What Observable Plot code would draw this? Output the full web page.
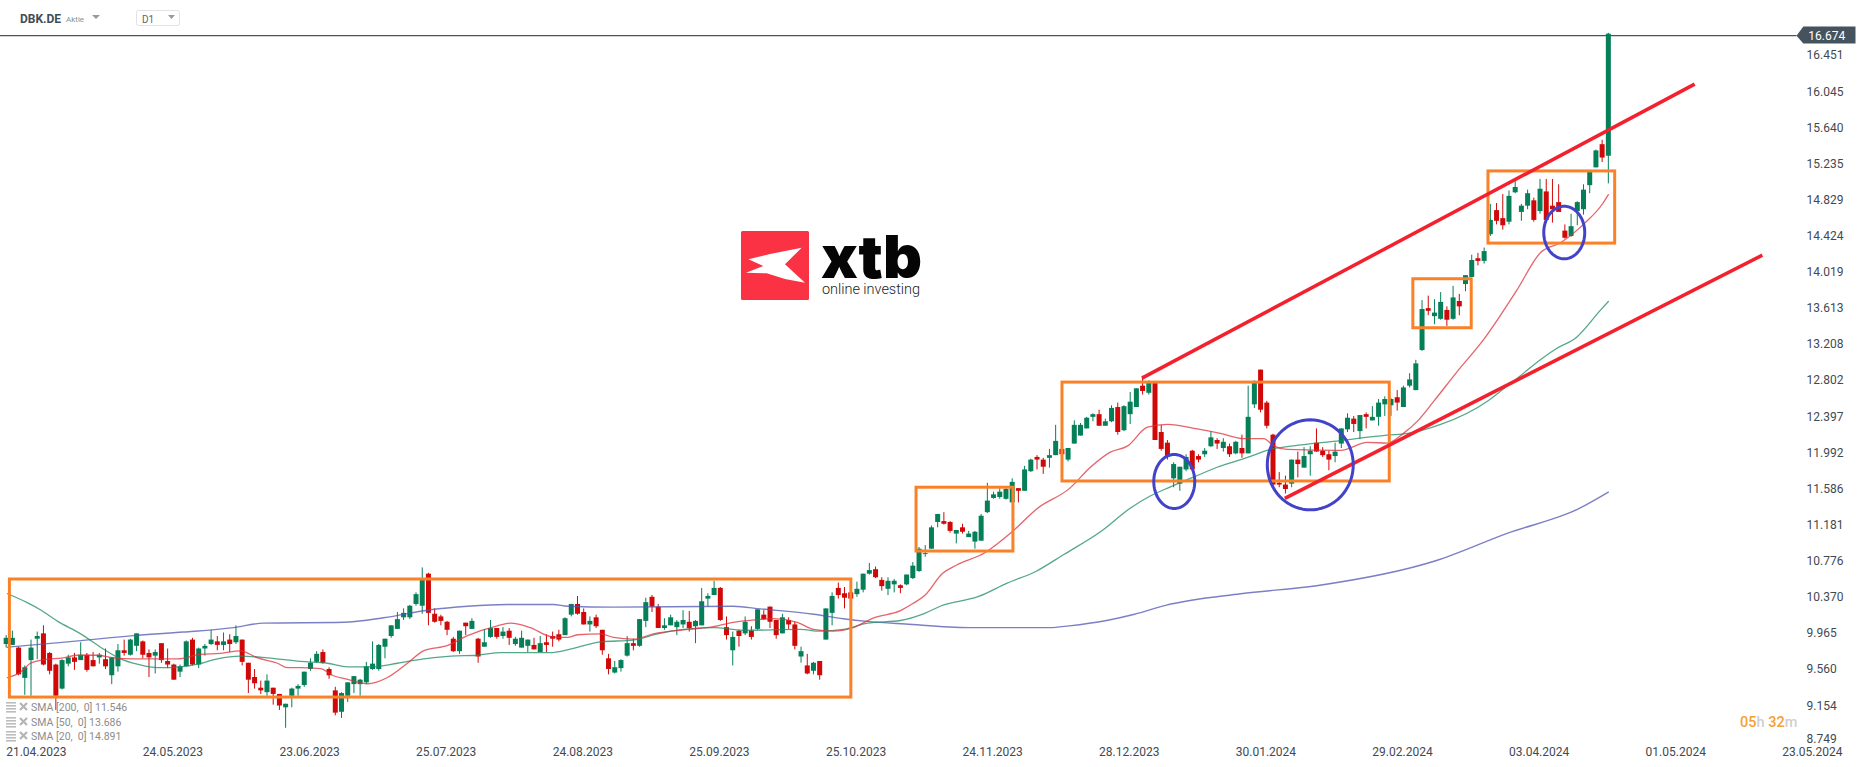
<!DOCTYPE html>
<html><head><meta charset="utf-8">
<script src="https://cdn.jsdelivr.net/npm/d3@7"></script>
<script src="https://cdn.jsdelivr.net/npm/@observablehq/plot@0.6"></script>
<style>html,body{margin:0;padding:0;background:#fff;overflow:hidden}</style>
</head><body><div id="chart"></div>
<script>
const open = [
9.84,9.83,9.80,9.46,9.66,9.90,9.96,9.74,9.61,9.34,
9.62,9.69,9.66,9.72,9.66,9.69,9.67,9.49,9.59,9.77,
9.72,9.82,9.87,9.74,9.71,9.85,9.65,9.61,9.53,9.59,
9.89,9.61,9.79,9.84,9.87,9.83,9.89,9.86,9.89,9.63,
9.47,9.35,9.30,9.35,9.28,9.13,9.26,9.34,9.38,9.56,
9.64,9.75,9.56,9.32,9.08,9.26,9.39,9.39,9.41,9.56,
9.56,9.81,9.93,10.01,10.14,10.14,10.29,10.27,10.63,10.18,
10.15,10.09,9.90,9.76,10.08,10.01,9.90,9.81,9.92,10.02,
9.93,9.99,9.84,9.80,9.82,9.83,9.75,9.86,9.93,9.95,
9.94,10.17,10.29,10.20,10.06,10.14,10.00,9.68,9.52,9.57,
9.71,9.85,9.82,10.10,10.37,10.26,10.02,10.05,10.03,10.06,
10.09,10.04,10.05,10.35,10.39,10.47,10.03,9.77,9.99,9.96,
9.99,10.01,10.17,10.26,10.11,9.96,10.11,10.06,9.70,9.60,
9.54,9.65,9.89,10.19,10.47,10.41,10.42,10.40,10.45,10.63,
10.68,10.56,10.46,10.51,10.50,10.51,10.58,10.66,10.85,10.91,
11.21,11.22,11.21,11.08,11.15,11.04,10.99,11.00,11.32,11.48,
11.49,11.47,11.43,11.59,11.56,11.78,11.94,11.91,11.93,11.96,
12.03,11.91,12.09,12.18,12.26,12.39,12.42,12.29,12.34,12.50,
12.24,12.42,12.50,12.74,12.66,12.78,12.22,12.10,11.70,11.64,
11.80,12.01,11.95,11.97,12.06,12.13,12.04,12.06,11.98,12.04,
11.98,12.53,12.92,12.55,12.19,11.65,11.63,11.64,11.91,11.82,
11.97,12.10,12.01,11.97,11.95,12.09,12.25,12.37,12.23,12.42,
12.35,12.39,12.53,12.52,12.61,12.50,12.74,12.69,13.14,13.61,
13.52,13.49,13.59,13.49,13.69,13.88,13.96,14.17,14.14,14.44,
14.71,14.62,14.58,14.91,14.69,14.76,14.82,14.70,14.92,14.76,
14.80,14.48,14.42,14.70,14.72,14.99,15.19,15.45,15.32];
const close = [
9.91,9.91,9.50,9.58,9.80,9.93,9.61,9.54,9.26,9.66,
9.69,9.64,9.72,9.55,9.59,9.72,9.59,9.69,9.77,9.74,
9.89,9.96,9.72,9.69,9.75,9.66,9.61,9.44,9.59,9.87,
9.61,9.79,9.82,9.89,9.83,9.87,9.84,9.93,9.64,9.44,
9.40,9.32,9.43,9.28,9.15,9.17,9.34,9.37,9.53,9.63,
9.73,9.63,9.49,9.07,9.29,9.41,9.48,9.44,9.59,9.62,
9.83,9.90,10.05,10.12,10.19,10.27,10.40,10.56,10.19,10.09,
10.10,10.00,9.76,9.99,10.04,10.10,9.70,9.86,10.02,9.92,
9.98,9.91,9.90,9.91,9.89,9.78,9.85,9.83,9.90,9.89,
10.13,10.29,10.18,10.06,10.10,10.04,9.77,9.56,9.58,9.66,
9.85,9.82,10.12,10.31,10.26,10.02,10.05,10.14,10.09,10.11,
10.02,10.10,10.32,10.38,10.47,10.11,9.94,9.92,9.93,10.09,
9.92,10.23,10.12,10.09,9.94,10.14,10.06,9.82,9.76,9.51,
9.63,9.49,10.24,10.38,10.39,10.36,10.35,10.46,10.63,10.67,
10.59,10.49,10.55,10.55,10.47,10.62,10.72,10.91,10.86,11.15,
11.30,11.19,11.11,11.12,11.10,11.08,11.10,11.28,11.45,11.52,
11.55,11.58,11.66,11.56,11.80,11.91,11.91,11.83,11.96,12.12,
11.97,12.04,12.30,12.30,12.38,12.42,12.29,12.34,12.49,12.22,
12.51,12.56,12.71,12.68,12.77,12.13,12.03,11.94,11.86,11.83,
11.94,11.80,11.91,12.01,12.16,12.09,12.11,11.97,12.11,11.98,
12.39,12.78,12.47,12.29,11.63,11.63,11.58,11.91,11.86,11.95,
12.01,12.00,11.96,11.91,12.00,12.26,12.38,12.31,12.41,12.39,
12.39,12.55,12.59,12.59,12.55,12.72,12.81,12.99,13.60,13.58,
13.56,13.68,13.48,13.73,13.63,13.98,14.15,14.14,14.25,14.60,
14.59,14.54,14.87,14.97,14.76,14.90,14.60,14.95,14.60,14.72,
14.69,14.40,14.53,14.80,14.94,15.14,15.38,15.30,16.69];
const high = [
9.94,9.99,9.81,9.60,9.89,9.98,10.05,9.75,9.62,9.67,
9.72,9.74,9.86,9.74,9.75,9.74,9.79,9.69,9.84,9.89,
9.90,9.96,9.88,9.78,9.78,9.85,9.79,9.62,9.61,9.88,
9.91,9.80,9.84,10.00,9.93,9.97,9.95,10.05,9.89,9.63,
9.56,9.43,9.50,9.35,9.28,9.17,9.35,9.39,9.53,9.68,
9.76,9.78,9.58,9.36,9.30,9.41,9.48,9.45,9.64,9.87,
9.84,9.90,10.05,10.20,10.24,10.28,10.42,10.70,10.64,10.24,
10.17,10.10,9.92,9.99,10.08,10.13,9.91,10.01,10.11,10.02,
10.03,10.02,9.92,9.99,9.89,9.91,9.93,9.95,9.98,10.00,
10.14,10.29,10.38,10.24,10.15,10.17,10.00,9.73,9.65,9.67,
9.93,9.90,10.12,10.36,10.39,10.29,10.13,10.17,10.11,10.22,
10.21,10.11,10.47,10.41,10.55,10.48,10.15,9.98,10.00,10.15,
10.04,10.23,10.22,10.26,10.11,10.18,10.14,10.09,9.81,9.73,
9.64,9.65,10.24,10.42,10.53,10.48,10.48,10.54,10.63,10.75,
10.71,10.59,10.59,10.57,10.51,10.62,10.76,10.93,10.95,11.17,
11.30,11.32,11.22,11.12,11.19,11.11,11.11,11.30,11.65,11.55,
11.59,11.60,11.70,11.59,11.84,11.92,11.96,11.93,12.03,12.30,
12.04,12.04,12.35,12.32,12.39,12.43,12.47,12.37,12.52,12.55,
12.52,12.67,12.71,12.85,12.80,12.79,12.30,12.13,11.88,11.83,
11.97,12.02,11.97,12.04,12.23,12.15,12.15,12.09,12.12,12.19,
12.74,12.80,12.92,12.57,12.20,11.77,11.73,11.91,12.00,12.05,
12.06,12.26,12.05,12.01,12.10,12.26,12.43,12.40,12.41,12.44,
12.51,12.59,12.62,12.60,12.69,12.74,12.88,13.03,13.70,13.75,
13.71,13.79,13.63,13.86,13.77,13.98,14.21,14.23,14.29,14.78,
14.79,14.89,14.93,15.05,14.78,14.94,14.85,15.06,15.06,15.06,
15.00,14.55,14.67,14.81,15.00,15.14,15.39,15.50,16.70];
const low = [
9.80,9.83,9.49,9.27,9.26,9.67,9.60,9.50,9.10,9.33,
9.59,9.55,9.66,9.53,9.59,9.62,9.56,9.39,9.53,9.71,
9.71,9.76,9.68,9.47,9.51,9.63,9.57,9.44,9.47,9.59,
9.60,9.57,9.71,9.83,9.77,9.77,9.75,9.84,9.60,9.29,
9.34,9.28,9.26,9.16,9.10,8.90,9.13,9.26,9.36,9.54,
9.63,9.62,9.45,9.04,9.01,9.19,9.29,9.26,9.39,9.55,
9.54,9.68,9.91,10.01,10.11,10.12,10.27,10.18,10.05,10.08,
10.05,9.94,9.75,9.73,9.94,10.01,9.63,9.81,9.91,9.90,
9.90,9.83,9.82,9.80,9.75,9.78,9.75,9.75,9.81,9.87,
9.94,10.15,10.17,10.06,9.98,10.02,9.72,9.50,9.51,9.53,
9.70,9.77,9.81,10.03,10.20,10.02,10.00,10.05,9.94,10.02,
9.98,9.85,10.05,10.26,10.39,10.10,9.89,9.60,9.81,9.94,
9.89,10.00,10.11,10.02,9.90,9.96,10.01,9.78,9.63,9.50,
9.50,9.44,9.89,10.05,10.35,10.24,10.33,10.37,10.42,10.62,
10.58,10.44,10.39,10.42,10.41,10.50,10.57,10.65,10.82,10.91,
11.15,11.18,11.09,10.97,11.08,11.04,10.91,11.00,11.31,11.47,
11.47,11.46,11.43,11.43,11.56,11.77,11.80,11.75,11.82,11.96,
11.97,11.89,12.09,12.18,12.26,12.34,12.29,12.29,12.33,12.19,
12.23,12.31,12.50,12.64,12.64,12.13,12.01,11.91,11.60,11.56,
11.78,11.79,11.88,11.94,12.05,12.03,12.00,11.94,11.97,11.93,
11.98,12.49,12.44,12.26,11.60,11.60,11.53,11.60,11.71,11.82,
11.73,12.00,11.94,11.79,11.88,12.04,12.22,12.22,12.14,12.26,
12.35,12.29,12.40,12.40,12.46,12.50,12.72,12.69,13.13,13.53,
13.43,13.48,13.41,13.48,13.53,13.80,13.96,14.09,14.11,14.42,
14.55,14.49,14.55,14.90,14.59,14.72,14.58,14.67,14.60,14.57,
14.69,14.39,14.41,14.54,14.66,14.90,15.19,15.25,15.01];

const sma200Bar = [0.2,9.9,20.5,28.6,36.6,41.4,54.3,60.8,68.3,74.3,80.7,88.1,90.4,97.8,117.1,121.5,130,134.8,138.7,144.8,155,168,171.2,177.2,181.7,186.7,198.8,211,230.2,241.8,253.4,258];
const sma200Val = [9.81,9.87,9.94,9.98,10.03,10.08,10.09,10.14,10.23,10.27,10.29,10.29,10.27,10.26,10.27,10.24,10.18,10.13,10.10,10.07,10.03,10.03,10.05,10.11,10.18,10.28,10.41,10.50,10.78,11.09,11.37,11.55];
const sma50Bar = [0.2,3.4,5.5,8.3,12,15.2,18.4,21.1,24.4,28.1,30.8,34,37.7,42.1,47.4,51.7,55,58.7,63,67.2,71.6,75.9,79.6,87.7,90.4,95.7,101,104.9,109.1,113.9,118.7,127.9,131.1,134.8,138.7,144,147.9,150.4,156.6,161.2,165.8,170.3,176.5,181,184.3,187.5,191.9,195,199.9,203.6,207.3,213.7,222.4,225.7,231,238.7,241.3,243.9,247.1,249.6,252.9,256.7,258];
const sma50Val = [10.41,10.31,10.23,10.10,9.96,9.81,9.68,9.62,9.58,9.59,9.62,9.68,9.71,9.69,9.65,9.63,9.59,9.59,9.63,9.68,9.71,9.72,9.75,9.75,9.78,9.87,9.89,9.96,10.01,10.03,10.00,10.01,9.99,10.01,10.08,10.11,10.19,10.27,10.38,10.53,10.66,10.85,11.12,11.37,11.51,11.61,11.74,11.83,11.94,12.03,12.07,12.12,12.19,12.21,12.31,12.58,12.72,12.86,13.04,13.16,13.29,13.59,13.69];
const sma20Bar = [0.2,2.3,3.9,6,9.2,11.5,14.7,17.3,20.5,27.6,31.3,34.5,37.7,40.5,43.7,45.3,47.4,50.6,52.7,55,58.2,61.4,64.6,67.2,71.1,74.3,79.1,81.2,84.4,87.7,90.4,92,95.7,97.8,101,104.2,109.7,113.9,117.1,121,123.6,127.4,130,133.2,136.4,139.7,144,146,147.9,150.8,153,157.6,161.9,166.1,171.2,174.6,177.8,180.6,183.8,187,191.8,195.5,199.3,202.5,204.1,206.3,214.9,219.2,222.4,225,227.3,230,233.5,238,243.2,247.1,250.3,254.2,257.1,258];
const sma20Val = [9.47,9.53,9.63,9.67,9.69,9.72,9.72,9.69,9.68,9.68,9.73,9.74,9.77,9.69,9.63,9.58,9.58,9.57,9.49,9.45,9.40,9.47,9.63,9.77,9.83,9.94,10.05,10.08,10.03,9.93,9.92,9.95,9.96,9.92,9.90,9.96,10.01,10.04,10.09,10.12,10.13,10.09,10.01,9.99,10.03,10.14,10.22,10.30,10.39,10.64,10.73,10.87,11.10,11.37,11.59,11.83,12.00,12.07,12.28,12.31,12.26,12.21,12.15,12.15,12.07,12.03,12.02,12.11,12.10,12.21,12.35,12.58,12.89,13.27,13.81,14.24,14.35,14.57,14.79,14.89];

const priceTicks = [16.451,16.045,15.640,15.235,14.829,14.424,14.019,13.613,13.208,12.802,12.397,11.992,11.586,11.181,10.776,10.370,9.965,9.560,9.154];
const bottomTick = [8.749];
const dateLabels = ["21.04.2023","24.05.2023","23.06.2023","25.07.2023","24.08.2023","25.09.2023","25.10.2023","24.11.2023","28.12.2023","30.01.2024","29.02.2024","03.04.2024","01.05.2024","23.05.2024"];
const lastPrice = 16.674;

const boxBar1 = [0.6,146.6,170.1,226.6,238.7];
const boxBar2 = [136.1,162.2,222.8,236,259.1];
const boxTop = [10.57,11.60,12.78,13.94,15.15];
const boxBottom = [9.245,10.884,11.67,13.39,14.34];

const trendBar1 = [182.9,205.9], trendBar2 = [271.9,282.8];
const trendPrice1 = [12.83,11.48], trendPrice2 = [16.13,14.21];

const ringBar = [188.1,210,250.9], ringBarRadius = [3.3,6.92,3.3];
const ringPrice = [11.67,11.857,14.464], ringPriceRadius = [0.303,0.505,0.295];

const GREEN="#047f58", RED="#d00808";
const candles = open.map((o,i)=>({i,o,c:close[i],h:high[i],l:low[i],col:close[i]>=o?GREEN:RED}));
const series = (bars,vals)=>bars.map((b,k)=>({b,v:vals[k]}));
const boxes = boxTop.map((t,k)=>({x1:boxBar1[k],x2:boxBar2[k],y1:boxBottom[k],y2:t}));
const trends = trendBar1.map((b,k)=>({x1:b,x2:trendBar2[k],y1:trendPrice1[k],y2:trendPrice2[k]}));
const rings = ringBar.flatMap((b,k)=>d3.range(0,73).map(a=>({k,
  x:b+ringBarRadius[k]*Math.cos(a/72*2*Math.PI),
  y:ringPrice[k]+ringPriceRadius[k]*Math.sin(a/72*2*Math.PI)})));
const badge = [{x:288.3,y:lastPrice},{x:289.4,y:16.776},{x:297.8,y:16.776},{x:297.8,y:16.586},{x:289.4,y:16.586},{x:288.3,y:lastPrice}];

const deco = () => {
  const g = d3.create("svg:g").style("font-family","Roboto, sans-serif").attr("text-anchor","start");
  // header
  g.append("text").attr("x",20).attr("y",23).attr("font-size",12).attr("font-weight",700).attr("fill","#3f4d57").text("DBK.DE");
  g.append("text").attr("x",66).attr("y",22).attr("font-size",8).attr("fill","#8a9096").text("Aktie");
  g.append("path").attr("d","M92 15H100L96 19Z").attr("fill","#9a9a9a");
  g.append("rect").attr("x",136.5).attr("y",10.5).attr("width",43).attr("height",15).attr("rx",2).attr("fill","#fff").attr("stroke","#e2e2e2");
  g.append("text").attr("x",142).attr("y",23).attr("font-size",10).attr("fill","#666").text("D1");
  g.append("path").attr("d","M168 15H175L171.5 19Z").attr("fill","#9a9a9a");
  // logo
  g.append("rect").attr("x",741).attr("y",231).attr("width",68).attr("height",69).attr("rx",1.5).attr("fill","#fa3243");
  g.append("path").attr("transform","translate(720,210) scale(0.3333)")
    .attr("d","M85 148L150 132L245 113L195 163L255 218L195 207L140 190L78 188L130 168Z").attr("fill","#fff");
  g.append("text").attr("x",821).attr("y",278).attr("font-family","Inter, Roboto, sans-serif").attr("font-size",59).attr("font-weight",900).attr("fill","#050505").attr("textLength",101).attr("lengthAdjust","spacingAndGlyphs").text("xtb");
  g.append("text").attr("x",822).attr("y",294).attr("font-size",14.5).attr("font-weight",300).attr("fill","#222").attr("textLength",98).text("online investing");
  // legend
  [["SMA [200,  0] 11.546",707],["SMA [50,  0] 13.686",722],["SMA [20,  0] 14.891",736]].forEach(([t,y])=>{
    [-5,-2,1,4].forEach(d=>g.append("rect").attr("x",6).attr("y",y+d).attr("width",10).attr("height",1.6).attr("fill","#bdbdbd"));
    g.append("path").attr("d",`M20 ${y-4}L27 ${y+3}M27 ${y-4}L20 ${y+3}`).attr("stroke","#b5b5b5").attr("stroke-width",2.2);
    g.append("text").attr("x",31).attr("y",y+3.5).attr("font-size",10.5).attr("fill","#8c8c8c").style("white-space","pre").text(t);
  });
  // countdown
  const cd = g.append("text").attr("x",1740).attr("y",727).attr("font-size",14.5).attr("font-weight",500);
  cd.append("tspan").attr("fill","#f7a033").text("05");
  cd.append("tspan").attr("fill","#cfcfcf").text("h ");
  cd.append("tspan").attr("fill","#f7a033").text("32");
  cd.append("tspan").attr("fill","#cfcfcf").text("m");
  return g.node();
};

const chart = Plot.plot({
  width:1866, height:767,
  marginLeft:0, marginTop:0, marginRight:60, marginBottom:24,
  style:{fontFamily:"Roboto, sans-serif", fontSize:"12px", background:"#fff", overflow:"visible"},
  x:{type:"linear", domain:[-0.913,289.91], axis:null},
  y:{type:"linear", domain:[8.7294,17.0683], axis:null},
  marks:[
    Plot.ruleY([lastPrice],{x1:-0.913,x2:288.4,stroke:"#455560",strokeWidth:1.2}),
    Plot.ruleX(candles,{x:"i",y1:"l",y2:"h",stroke:"col",strokeWidth:1}),
    Plot.ruleX(candles,{x:"i",y1:"o",y2:"c",stroke:"col",strokeWidth:5}),
    Plot.line(series(sma200Bar,sma200Val),{x:"b",y:"v",stroke:"#4f55b0",strokeWidth:1.4,strokeOpacity:0.75,curve:"monotone-x"}),
    Plot.line(series(sma50Bar,sma50Val),{x:"b",y:"v",stroke:"#1c8a62",strokeWidth:1.3,strokeOpacity:0.75,curve:"monotone-x"}),
    Plot.line(series(sma20Bar,sma20Val),{x:"b",y:"v",stroke:"#de2f38",strokeWidth:1.3,strokeOpacity:0.75,curve:"monotone-x"}),
    Plot.rect(boxes,{x1:"x1",x2:"x2",y1:"y1",y2:"y2",fill:"none",stroke:"#fb8128",strokeWidth:3}),
    Plot.link(trends,{x1:"x1",x2:"x2",y1:"y1",y2:"y2",stroke:"#f3212d",strokeWidth:3.5}),
    Plot.line(rings,{x:"x",y:"y",z:"k",stroke:"#4343c9",strokeWidth:3,curve:"linear"}),
    Plot.line(badge,{x:"x",y:"y",fill:"#44535e",stroke:"none"}),
    Plot.text([lastPrice],{x:290.2,y:16.665,text:d=>d3.format(".3f")(d),fill:"#fff",textAnchor:"start",fontSize:12}),
    Plot.axisY(priceTicks,{anchor:"right",tickSize:0,tickPadding:0,textAnchor:"start",tickFormat:d3.format(".3f"),color:"#3f4a52",fontSize:12,label:null}),
    Plot.axisY(bottomTick,{anchor:"right",tickSize:0,tickPadding:0,textAnchor:"start",tickFormat:d3.format(".3f"),color:"#3f4a52",fontSize:12,label:null,dy:-3}),
    Plot.axisX(dateLabels.map((d,k)=>k*22),{anchor:"bottom",tickSize:0,tickPadding:4,textAnchor:"start",tickFormat:i=>dateLabels[i/22],color:"#3f4a52",fontSize:12,label:null}),
    deco
  ]
});
document.getElementById("chart").append(chart);
</script></body></html>
